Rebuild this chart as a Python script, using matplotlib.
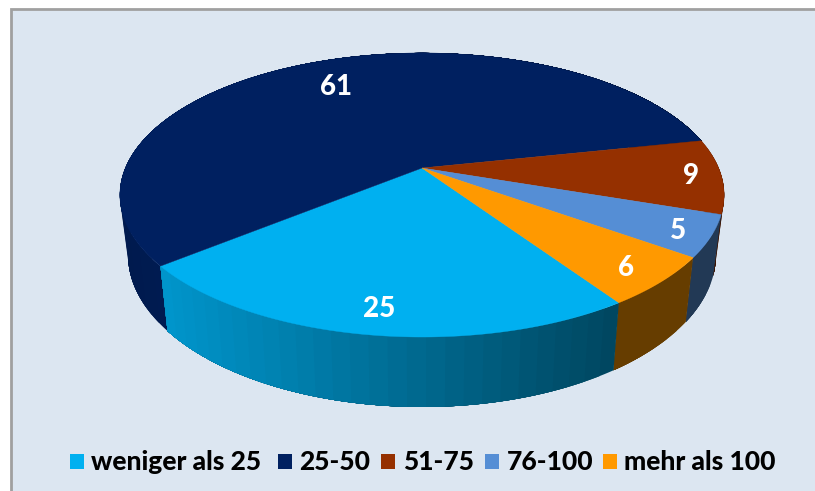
import numpy as np
import matplotlib
matplotlib.use('Agg')
import matplotlib.pyplot as plt
from matplotlib.patches import Polygon, Rectangle

categories = ['weniger als 25', '25-50', '51-75', '76-100', 'mehr als 100']
values = [25, 61, 9, 5, 6]
colors = ['#00B0F0', '#002060', '#953000', '#558ED5', '#FF9900']

FONT = 'Lato'
BG = '#DCE6F1'

# pie geometry in pixels (perspective view of a flat disc)
CX, CY = 422, 168
A, B, K = 296.6, 136.9, 0.19
START = -56.0


def top_ring(theta):
    u, v = np.cos(theta), np.sin(theta)
    w = 1 + K * v
    return CX + A * u / w, CY - B * v / w


def bottom_ring(theta):
    u, v = np.cos(theta), np.sin(theta)
    w = 1 + K * v
    return CX + 0.973 * A * u / w, 226 - 146.6 * v / w


def shade(hex_color, x):
    # side wall gets darker from left to right
    f = np.interp(x, [120, 167, 611, 724], [0.8, 0.85, 0.4, 0.4])
    return tuple(c * f for c in matplotlib.colors.to_rgb(hex_color))


fig = plt.figure(figsize=(8.15, 4.91), dpi=100)
ax = fig.add_axes([0, 0, 1, 1])
ax.set_xlim(0, 815)
ax.set_ylim(491, 0)
ax.axis('off')

# chart area
ax.add_patch(Rectangle((11, 9), 815, 500, fc=BG, ec='#A0A0A0', lw=2))

# slice angles, clockwise from START
total = sum(values)
angles = [np.radians(START - 360 * s / total) for s in np.cumsum([0] + values)]
slices = list(zip(angles[:-1], angles[1:], colors))

# side walls, back to front; each band overlaps the next so no seams show
order = sorted(slices, key=lambda s: -np.sin((s[0] + s[1]) / 2))
for a0, a1, col in order:
    steps = max(int(abs(a1 - a0) / np.radians(3)), 2)
    fine = np.linspace(a0, a1, steps * 6 + 1)
    tx, ty = top_ring(fine)
    bx, by = bottom_ring(fine)
    for i in range(steps):
        end = len(fine)
        j = i * 6
        top = list(zip(tx[j:end], ty[j:end]))
        bottom = list(zip(bx[j:end], by[j:end]))
        c = shade(col, (bx[j] + bx[min(j + 6, end - 1)]) / 2)
        ax.add_patch(Polygon(top + bottom[::-1], fc=c, ec='none'))

# top surface
for a0, a1, col in slices:
    th = np.linspace(a0, a1, 200)
    x, y = top_ring(th)
    pts = [(CX, CY)] + list(zip(x, y))
    ax.add_patch(Polygon(pts, fc=col, ec=col, lw=0.3))

# value labels
label_pos = [(379, 309), (336, 87), (691, 176), (678, 231), (626, 268)]
for val, (lx, ly) in zip(values, label_pos):
    ax.text(lx, ly, str(val), color='white', fontsize=20, fontweight=900,
            family=FONT, ha='center', va='center')

# legend
box_x = [70, 278, 381, 485, 603]
text_x = [91, 299, 403, 507, 624]
for name, col, bx0, tx0 in zip(categories, colors, box_x, text_x):
    ax.add_patch(Rectangle((bx0, 454), 14, 15, fc=col, ec='none'))
    ax.text(tx0, 462, name, color='black', fontsize=19, fontweight=900,
            family=FONT, ha='left', va='center')

fig.savefig('out.png', dpi=100)
